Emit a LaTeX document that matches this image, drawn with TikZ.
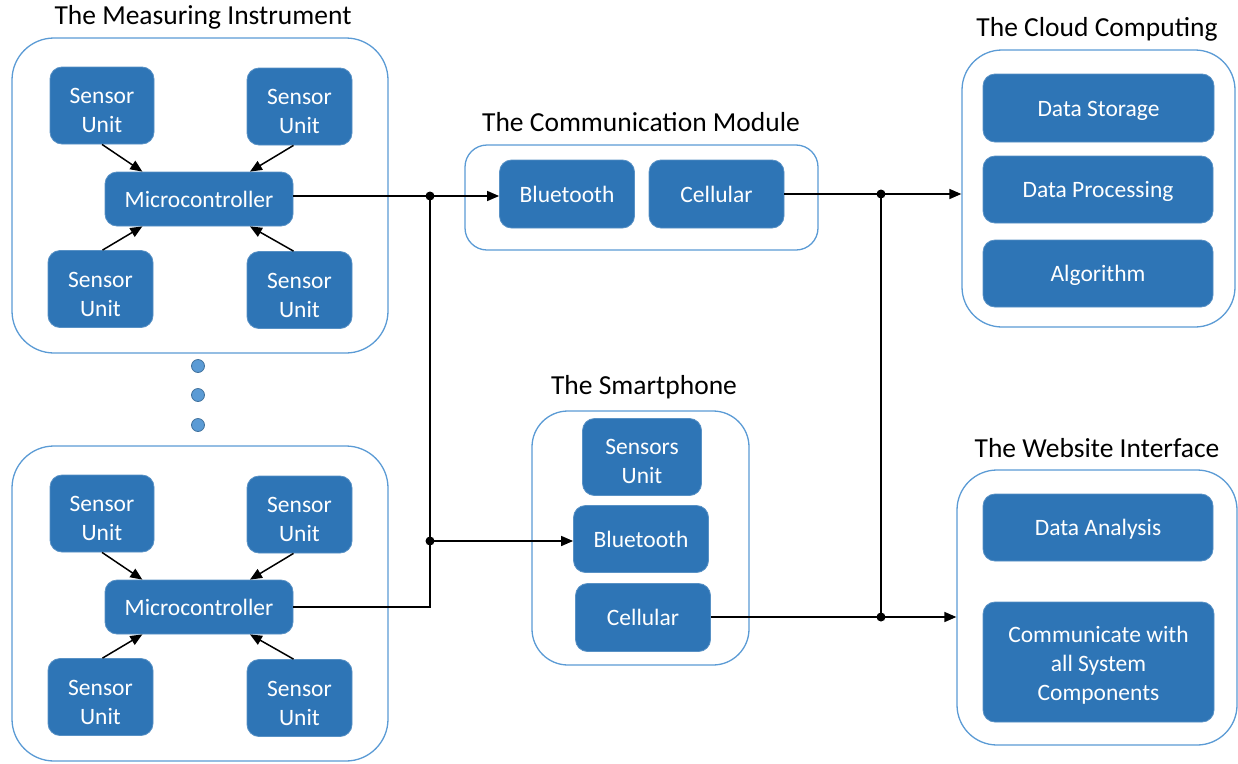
\documentclass[tikz,border=0pt]{standalone}
\usepackage{fontspec}
\setmainfont{Carlito}
\usetikzlibrary{arrows.meta,calc}
\definecolor{boxblue}{HTML}{2E75B6}
\definecolor{rimblue}{HTML}{5B9BD5}
\definecolor{dotedge}{HTML}{41719C}
% centred stack of lines, set a little lower than the node centre
\newcommand\lowstack[2]{\raisebox{-#1}[\height][\depth]{\begin{tabular}{@{}c@{}}#2\end{tabular}}}
\tikzset{
  blk/.style={fill=boxblue, draw=boxblue!80!white, line width=0.8pt, rounded corners=12pt,
    text=white, align=center, inner sep=0pt,
    font=\fontsize{23.5}{29}\selectfont},
  oneline/.style={blk, text height=16.5pt, text depth=-5pt},
  outer/.style={draw=rimblue, line width=1.3pt, fill=white, inner sep=0pt},
  ttl/.style={font=\fontsize{27.5}{32}\selectfont, inner sep=0pt},
  link/.style={line width=1.5pt, black},
  arr/.style={link, -{Triangle[length=12pt,width=10pt]}},
  junc/.style={circle, fill=black, inner sep=0pt, minimum size=9pt},
  morebox/.style={circle, fill=rimblue, draw=dotedge, line width=0.8pt, inner sep=0pt, minimum size=13pt}
}
\begin{document}
\begin{tikzpicture}[x=1pt,y=-1pt]
\useasboundingbox (0,0) rectangle (1238,763);

% two measuring instruments, one above the other
\foreach \dy/\p in {0/a,408/b}{
  \begin{scope}[shift={(0,\dy)}]
    \node[outer, rounded corners=42pt, minimum width=376pt, minimum height=315pt] (\p-box) at (200,195.5) {};
    \node[blk, minimum width=104pt, minimum height=77pt] (\p-s1) at (102,105.5) {\lowstack{7pt}{Sensor\\Unit}};
    \node[blk, minimum width=105pt, minimum height=77pt] (\p-s2) at (299.5,106.5) {\lowstack{7pt}{Sensor\\Unit}};
    \node[blk, minimum width=105pt, minimum height=77pt] (\p-s3) at (100.5,289) {\lowstack{7pt}{Sensor\\Unit}};
    \node[blk, minimum width=105pt, minimum height=77pt] (\p-s4) at (299.5,290) {\lowstack{7pt}{Sensor\\Unit}};
    \node[oneline, minimum width=188pt, minimum height=54pt] (\p-mc) at (199,199) {Microcontroller};
    \draw[arr] (\p-s1.south) -- ($(\p-mc.north west)!0.2!(\p-mc.north east)$);
    \draw[arr] ($(\p-s2.south)+(-6,0)$) -- ($(\p-mc.north west)!0.77!(\p-mc.north east)$);
    \draw[arr] ($(\p-s3.north)+(2,0)$) -- ($(\p-mc.south west)!0.2!(\p-mc.south east)$);
    \draw[arr] ($(\p-s4.north)+(-6,0)$) -- ($(\p-mc.south west)!0.77!(\p-mc.south east)$);
  \end{scope}
}
\node[ttl] (t-meas) at (203,17) {The Measuring Instrument};

% more instruments in between
\node[morebox] (m1) at (198,366) {};
\node[morebox] (m2) at (198,395) {};
\node[morebox] (m3) at (198,425) {};

% communication module
\node[ttl] (t-comm) at (641,122) {The Communication Module};
\node[outer, rounded corners=22pt, minimum width=353pt, minimum height=105pt] (comm) at (641.5,197.5) {};
\node[oneline, minimum width=135pt, minimum height=68pt] (cbt) at (567,194) {Bluetooth};
\node[oneline, minimum width=135pt, minimum height=68pt] (ccell) at (716.5,194) {Cellular};

% smartphone
\node[ttl] (t-phone) at (644,387) {The Smartphone};
\node[outer, rounded corners=36pt, minimum width=217pt, minimum height=254pt] (phone) at (640.5,538) {};
\node[blk, minimum width=119pt, minimum height=77pt] (ssu) at (642,457) {\lowstack{6pt}{Sensors\\Unit}};
\node[oneline, minimum width=135pt, minimum height=67pt] (sbt) at (641,539) {Bluetooth};
\node[oneline, minimum width=135pt, minimum height=68pt] (scell) at (643,617.5) {Cellular};

% cloud computing
\node[ttl] (t-cloud) at (1097,29) {The Cloud Computing};
\node[outer, rounded corners=40pt, minimum width=273pt, minimum height=277pt] (cloud) at (1098.5,188.5) {};
\node[oneline, minimum width=231pt, minimum height=68pt] (ds) at (1098.5,108) {Data Storage};
\node[oneline, minimum width=230pt, minimum height=67pt] (dp) at (1098,189.5) {Data Processing};
\node[oneline, minimum width=230pt, minimum height=67pt] (alg) at (1098,273.5) {Algorithm};

% website interface
\node[ttl] (t-web) at (1097,448) {The Website Interface};
\node[outer, rounded corners=40pt, minimum width=280pt, minimum height=275pt] (web) at (1097,607.5) {};
\node[oneline, minimum width=230pt, minimum height=67pt] (da) at (1098,527.5) {Data Analysis};
\node[blk, minimum width=231pt, minimum height=120pt] (cw) at (1098.5,662) {\lowstack{4pt}{Communicate with\\all System\\Components}};

% connectors
\coordinate (j1) at (430,196);
\coordinate (j2) at (430,541);
\coordinate (j3) at (881,194);
\coordinate (j4) at (881,617);
\draw[link] (a-mc.east|-j1) -- (j1);
\draw[link] (j1) -- (j1|-b-mc.east) -- (b-mc.east);
\draw[arr] (j1) -- (cbt.west|-j1);
\draw[arr] (j2) -- (sbt.west|-j2);
\draw[link] (ccell.east|-j3) -- (j3);
\draw[arr] (j3) -- (cloud.west|-j3);
\draw[link] (j3) -- (j4);
\draw[link] (scell.east|-j4) -- (j4);
\draw[arr] (j4) -- (web.west|-j4);
\node[junc] (d1) at (j1) {};
\node[junc] (d2) at (j2) {};
\node[junc] (d3) at (j3) {};
\node[junc] (d4) at (j4) {};
\end{tikzpicture}
\end{document}
